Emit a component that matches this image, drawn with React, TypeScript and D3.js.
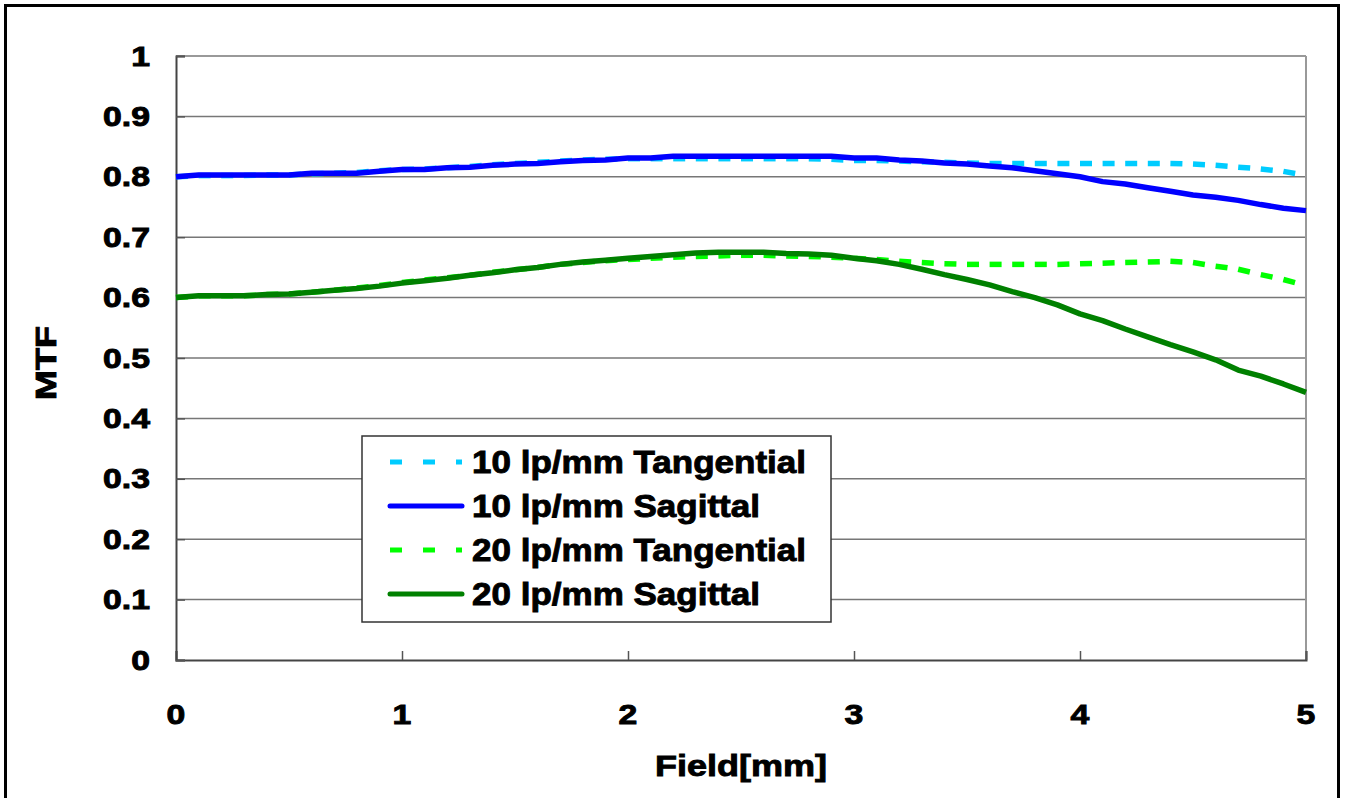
import React, { useRef, useEffect } from 'react';
import * as d3 from 'd3';

// field positions [mm]
const field = [
  0, 0.1, 0.2, 0.3, 0.4, 0.5, 0.6, 0.7, 0.8, 0.9,
  1, 1.1, 1.2, 1.3, 1.4, 1.5, 1.6, 1.7, 1.8, 1.9,
  2, 2.1, 2.2, 2.3, 2.4, 2.5, 2.6, 2.7, 2.8, 2.9,
  3, 3.1, 3.2, 3.3, 3.4, 3.5, 3.6, 3.7, 3.8, 3.9,
  4, 4.1, 4.2, 4.3, 4.4, 4.5, 4.6, 4.7, 4.8, 4.9, 5,
];

const tan10 = [
  0.800, 0.802, 0.802, 0.802, 0.803, 0.803, 0.805, 0.806, 0.807, 0.810,
  0.812, 0.813, 0.815, 0.817, 0.820, 0.822, 0.824, 0.826, 0.828, 0.829,
  0.830, 0.830, 0.830, 0.830, 0.830, 0.830, 0.830, 0.830, 0.830, 0.829,
  0.827, 0.827, 0.826, 0.825, 0.824, 0.823, 0.822, 0.822, 0.822, 0.822,
  0.822, 0.822, 0.822, 0.822, 0.822, 0.821, 0.819, 0.816, 0.813, 0.809, 0.802,
];

const sag10 = [
  0.800, 0.803, 0.803, 0.803, 0.803, 0.803, 0.806, 0.806, 0.806, 0.809,
  0.812, 0.812, 0.815, 0.816, 0.819, 0.821, 0.822, 0.825, 0.827, 0.828,
  0.831, 0.831, 0.834, 0.834, 0.834, 0.834, 0.834, 0.834, 0.834, 0.834,
  0.831, 0.831, 0.828, 0.826, 0.823, 0.821, 0.818, 0.815, 0.810, 0.805,
  0.800, 0.792, 0.788, 0.782, 0.776, 0.770, 0.766, 0.761, 0.754, 0.748, 0.744,
];

const tan20 = [
  0.600, 0.603, 0.603, 0.603, 0.605, 0.606, 0.609, 0.612, 0.616, 0.620,
  0.625, 0.629, 0.633, 0.637, 0.642, 0.646, 0.650, 0.655, 0.658, 0.661,
  0.663, 0.665, 0.667, 0.668, 0.669, 0.670, 0.670, 0.669, 0.668, 0.667,
  0.665, 0.663, 0.660, 0.658, 0.656, 0.655, 0.655, 0.655, 0.655, 0.655,
  0.656, 0.657, 0.658, 0.659, 0.660, 0.658, 0.652, 0.647, 0.638, 0.630, 0.620,
];

const sag20 = [
  0.600, 0.603, 0.603, 0.603, 0.605, 0.606, 0.609, 0.612, 0.615, 0.619,
  0.624, 0.628, 0.632, 0.637, 0.641, 0.646, 0.650, 0.655, 0.659, 0.662,
  0.665, 0.668, 0.671, 0.674, 0.675, 0.675, 0.675, 0.673, 0.672, 0.670,
  0.665, 0.661, 0.655, 0.647, 0.638, 0.630, 0.621, 0.610, 0.600, 0.588,
  0.573, 0.562, 0.548, 0.535, 0.522, 0.510, 0.497, 0.480, 0.470, 0.457, 0.443,
];

const xTicks = [0, 1, 2, 3, 4, 5];
const yTicks = [0, 0.1, 0.2, 0.3, 0.4, 0.5, 0.6, 0.7, 0.8, 0.9, 1];

const series = [
  { name: '10 lp/mm Tangential', values: tan10, color: '#00CCFF', dashed: true },
  { name: '10 lp/mm Sagittal', values: sag10, color: '#0000FF', dashed: false },
  { name: '20 lp/mm Tangential', values: tan20, color: '#00FF00', dashed: true },
  { name: '20 lp/mm Sagittal', values: sag20, color: '#008000', dashed: false },
];

const FONT = '"Liberation Sans", Arial, sans-serif';

const App: React.FC = () => {
  const svgRef = useRef<SVGSVGElement>(null);

  useEffect(() => {
    if (!svgRef.current) return;
    const svg = d3.select(svgRef.current);
    svg.selectAll('*').remove();

    const width = 1345;
    const height = 798;
    const left = 176, right = 1306, top = 56, bottom = 660;

    svg.attr('width', width).attr('height', height);

    const x = d3.scaleLinear().domain([0, 5]).range([left, right]);
    const y = d3.scaleLinear().domain([0, 1]).range([bottom, top]);

    // heavy text, close to the original's black face
    const heavy = (sel: d3.Selection<SVGTextElement, any, any, any>, size: number) =>
      sel.attr('font-family', FONT).attr('font-weight', 'bold').attr('font-size', size)
        .attr('fill', '#000').attr('stroke', '#000').attr('stroke-width', 0.9);

    // outer frame
    svg.append('rect')
      .attr('x', 5.5).attr('y', 5.5)
      .attr('width', 1333).attr('height', 820)
      .attr('fill', 'white').attr('stroke', '#000').attr('stroke-width', 3);

    // gridlines
    svg.append('g')
      .selectAll('line')
      .data(yTicks.filter(d => d > 0))
      .enter().append('line')
      .attr('x1', left).attr('x2', right)
      .attr('y1', d => y(d)).attr('y2', d => y(d))
      .attr('stroke', '#777').attr('stroke-width', 1.5);

    // right border of plot area
    svg.append('line')
      .attr('x1', right).attr('x2', right)
      .attr('y1', top).attr('y2', bottom)
      .attr('stroke', '#999').attr('stroke-width', 2);

    // axes
    const xAxis = svg.append('g')
      .attr('transform', `translate(0,${bottom})`)
      .call(d3.axisBottom(x).tickValues(xTicks).tickSize(-9).tickFormat(() => ''));
    xAxis.select('.domain').attr('stroke', '#444').attr('stroke-width', 2);
    xAxis.selectAll('.tick line').attr('stroke', '#555').attr('stroke-width', 1.5);

    const yAxis = svg.append('g')
      .attr('transform', `translate(${left},0)`)
      .call(d3.axisLeft(y).tickValues(yTicks).tickSize(-9).tickFormat(() => ''));
    yAxis.select('.domain').attr('stroke', '#444').attr('stroke-width', 2);
    yAxis.selectAll('.tick line').attr('stroke', '#555').attr('stroke-width', 1.5);

    // tick labels
    const stretch = 1.25;
    svg.append('g')
      .selectAll('text')
      .data(yTicks)
      .enter().append('text')
      .attr('transform', d => `translate(150,${y(d) + 9.5}) scale(${stretch},1)`)
      .attr('text-anchor', 'end')
      .call(heavy, 27)
      .text(d => String(d));

    svg.append('g')
      .selectAll('text')
      .data(xTicks)
      .enter().append('text')
      .attr('transform', d => `translate(${x(d)},724) scale(${stretch},1)`)
      .attr('text-anchor', 'middle')
      .call(heavy, 27)
      .text(d => String(d));

    // axis titles
    svg.append('text')
      .attr('transform', `translate(741,776) scale(1.2,1)`)
      .attr('text-anchor', 'middle')
      .call(heavy, 30)
      .text('Field[mm]');

    svg.append('text')
      .attr('transform', `translate(56,363) rotate(-90) scale(1.2,1)`)
      .attr('text-anchor', 'middle')
      .call(heavy, 30)
      .text('MTF');

    // series
    const line = d3.line<number>()
      .x((_, i) => x(field[i]))
      .y(d => y(d));

    const segLine = d3.line<[number, number]>()
      .x(d => x(d[0]))
      .y(d => y(d[1]));

    const plot = svg.append('g');
    series.forEach(s => {
      if (s.dashed) {
        // dash pattern restarts on every segment
        const pairs = d3.pairs(s.values.map((v, i) => [field[i], v] as [number, number]));
        plot.append('g')
          .selectAll('path')
          .data(pairs)
          .enter().append('path')
          .attr('d', d => segLine(d))
          .attr('fill', 'none')
          .attr('stroke', s.color)
          .attr('stroke-width', 5.5)
          .attr('stroke-dasharray', '12 21');
      } else {
        plot.append('path')
          .attr('d', line(s.values))
          .attr('fill', 'none')
          .attr('stroke', s.color)
          .attr('stroke-width', 5.5)
          .attr('stroke-linejoin', 'round');
      }
    });

    // legend
    const lg = svg.append('g');
    lg.append('rect')
      .attr('x', 362).attr('y', 436)
      .attr('width', 469).attr('height', 186)
      .attr('fill', 'white').attr('stroke', '#333').attr('stroke-width', 1.5);

    const rowY = d3.scalePoint<string>()
      .domain(series.map(s => s.name))
      .range([462, 594]);

    series.forEach(s => {
      const yy = rowY(s.name) as number;
      lg.append('line')
        .attr('x1', 390).attr('x2', 462)
        .attr('y1', yy).attr('y2', yy)
        .attr('stroke', s.color)
        .attr('stroke-width', 5)
        .attr('stroke-linecap', s.dashed ? 'butt' : 'round')
        .attr('stroke-dasharray', s.dashed ? '12 21' : null);
      lg.append('text')
        .attr('transform', `translate(472,${yy + 11}) scale(1.13,1)`)
        .call(heavy, 31)
        .text(s.name);
    });
  }, []);

  return (
    <svg ref={svgRef} style={{ position: 'absolute', left: 0, top: 0 }}></svg>
  );
};

export default App;
